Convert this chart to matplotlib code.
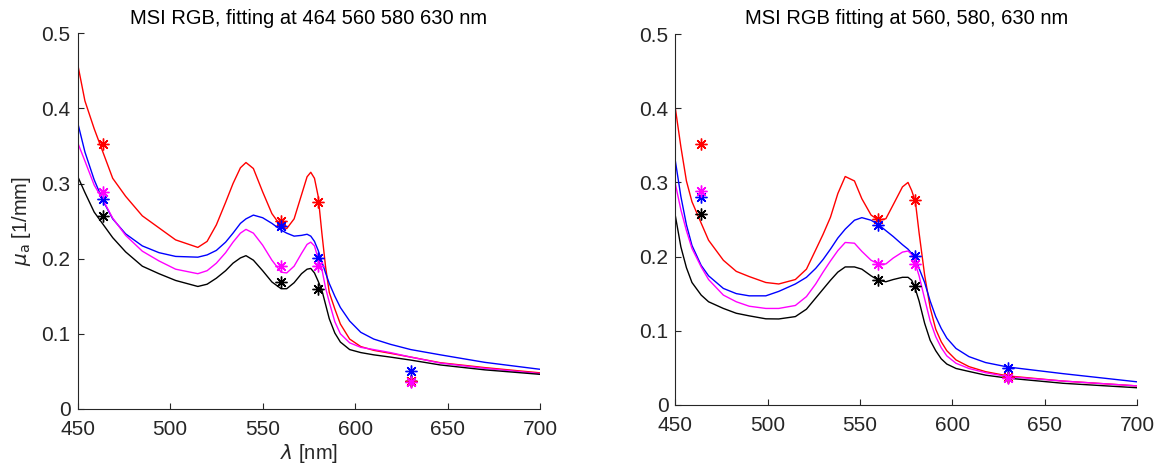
import matplotlib.pyplot as plt

plt.rcParams['font.family'] = ['Liberation Sans', 'DejaVu Sans']

# ---- left panel: fitting at 464 560 580 630 nm ----
left_wavelength = [450, 454, 459, 464, 469, 476, 485, 494, 503, 515, 520, 525, 530, 534,
                   538, 541, 545, 550, 555, 560, 563, 567, 571, 574, 576, 578, 580, 582,
                   584, 586, 589, 592, 597, 603, 610, 619, 630, 646, 670, 700]
left_red = [0.460, 0.410, 0.373, 0.340, 0.307, 0.283, 0.257, 0.241, 0.225, 0.215,
            0.223, 0.245, 0.275, 0.300, 0.321, 0.328, 0.320, 0.289, 0.260, 0.243,
            0.240, 0.253, 0.285, 0.309, 0.315, 0.307, 0.283, 0.234, 0.189, 0.155,
            0.133, 0.113, 0.093, 0.083, 0.078, 0.074, 0.069, 0.0615, 0.055, 0.048]
left_blue = [0.382, 0.342, 0.305, 0.276, 0.253, 0.233, 0.217, 0.208, 0.203, 0.202,
             0.205, 0.211, 0.222, 0.234, 0.247, 0.253, 0.258, 0.2545, 0.247, 0.238,
             0.234, 0.230, 0.231, 0.2325, 0.230, 0.223, 0.211, 0.196, 0.181, 0.167,
             0.150, 0.135, 0.117, 0.102, 0.093, 0.086, 0.079, 0.072, 0.062, 0.0527]
left_magenta = [0.355, 0.330, 0.298, 0.277, 0.254, 0.231, 0.210, 0.197, 0.186, 0.180,
                0.184, 0.194, 0.208, 0.222, 0.234, 0.239, 0.234, 0.218, 0.198, 0.182,
                0.181, 0.190, 0.207, 0.219, 0.222, 0.217, 0.200, 0.186, 0.161, 0.142,
                0.116, 0.100, 0.088, 0.082, 0.079, 0.075, 0.069, 0.061, 0.054, 0.047]
left_black = [0.310, 0.288, 0.262, 0.245, 0.228, 0.209, 0.190, 0.180, 0.171, 0.163,
              0.166, 0.174, 0.184, 0.194, 0.201, 0.204, 0.198, 0.184, 0.169, 0.160,
              0.160, 0.168, 0.180, 0.186, 0.187, 0.181, 0.170, 0.158, 0.139, 0.120,
              0.101, 0.089, 0.079, 0.075, 0.072, 0.069, 0.065, 0.0585, 0.052, 0.046]

# ---- right panel: fitting at 560, 580, 630 nm ----
right_wavelength = [450, 453, 456, 459, 464, 468, 476, 483, 490, 499, 506, 515, 521, 526,
                    530, 534, 538, 542, 547, 551, 556, 560, 564, 568, 573, 576, 578, 580,
                    582, 585, 588, 591, 594, 597, 602, 609, 618, 630, 660, 700]
right_red = [0.400, 0.348, 0.302, 0.274, 0.245, 0.222, 0.195, 0.180, 0.173, 0.165,
             0.163, 0.169, 0.183, 0.209, 0.230, 0.253, 0.285, 0.308, 0.302, 0.278,
             0.256, 0.249, 0.251, 0.270, 0.294, 0.300, 0.289, 0.274, 0.232, 0.175,
             0.131, 0.102, 0.085, 0.073, 0.0605, 0.0515, 0.0447, 0.039, 0.032, 0.0255]
right_blue = [0.329, 0.281, 0.243, 0.215, 0.188, 0.174, 0.157, 0.150, 0.147, 0.147,
              0.153, 0.163, 0.172, 0.184, 0.196, 0.210, 0.225, 0.237, 0.249, 0.2525,
              0.249, 0.243, 0.235, 0.227, 0.216, 0.210, 0.204, 0.198, 0.184, 0.165,
              0.140, 0.119, 0.103, 0.090, 0.076, 0.065, 0.057, 0.051, 0.042, 0.031]
right_magenta = [0.298, 0.263, 0.235, 0.211, 0.186, 0.169, 0.148, 0.139, 0.133, 0.130,
                 0.130, 0.134, 0.146, 0.163, 0.179, 0.194, 0.208, 0.219, 0.218, 0.207,
                 0.195, 0.190, 0.190, 0.198, 0.206, 0.2075, 0.203, 0.190, 0.174, 0.143,
                 0.113, 0.092, 0.077, 0.066, 0.056, 0.049, 0.0433, 0.038, 0.032, 0.0255]
right_black = [0.255, 0.213, 0.185, 0.165, 0.148, 0.139, 0.130, 0.1235, 0.120, 0.116,
               0.1158, 0.119, 0.129, 0.144, 0.156, 0.168, 0.179, 0.186, 0.186, 0.183,
               0.174, 0.168, 0.166, 0.169, 0.172, 0.172, 0.168, 0.156, 0.140, 0.110,
               0.087, 0.073, 0.062, 0.055, 0.049, 0.045, 0.040, 0.036, 0.029, 0.023]

# ---- measured MSI points (same in both panels) ----
msi_wavelength = [464, 560, 580, 630]
msi_red = [0.352, 0.250, 0.276, 0.037]
msi_blue = [0.280, 0.243, 0.201, 0.050]
msi_magenta = [0.289, 0.190, 0.190, 0.036]
msi_black = [0.257, 0.169, 0.160, 0.037]

colors = ["red", "blue", "magenta", "black"]
titles = ["MSI RGB, fitting at 464 560 580 630 nm",
          "MSI RGB fitting at 560, 580, 630 nm"]
wavelengths = [left_wavelength, right_wavelength]
curves = [[left_red, left_blue, left_magenta, left_black],
          [right_red, right_blue, right_magenta, right_black]]
# marker draw order: black first so magenta ends on top at 630 nm
marker_order = [("black", msi_black), ("red", msi_red),
                ("blue", msi_blue), ("magenta", msi_magenta)]

fig = plt.figure(figsize=(11.57, 4.69), dpi=100)
ax_left = fig.add_axes([0.0670, 0.1281, 0.4000, 0.8009])
ax_right = fig.add_axes([0.5837, 0.1369, 0.3990, 0.7902])

for ax, title, lam, panel in zip([ax_left, ax_right], titles, wavelengths, curves):
    for color, mu in zip(colors, panel):
        ax.plot(lam, mu, color=color, linewidth=1.0)
    for color, mu in marker_order:
        ax.plot(msi_wavelength, mu, linestyle="none", marker=(8, 2, 0),
                markersize=8.5, markeredgewidth=1.0, color=color)

    ax.set_xlim(450, 700)
    ax.set_ylim(0, 0.5)
    ax.set_xticks([450, 500, 550, 600, 650, 700])
    ax.set_yticks([0, 0.1, 0.2, 0.3, 0.4, 0.5])
    ax.set_yticklabels(["0", "0.1", "0.2", "0.3", "0.4", "0.5"])
    ax.set_title(title, fontsize=14.5, color="black", pad=7)

    for side in ["top", "right"]:
        ax.spines[side].set_visible(False)
    for side in ["left", "bottom"]:
        ax.spines[side].set_color("#262626")
        ax.spines[side].set_linewidth(0.8)
    ax.tick_params(direction="in", length=4, width=0.8, colors="#262626",
                   labelsize=15)
    ax.tick_params(axis="x", pad=8)
    ax.tick_params(axis="y", pad=5)

ax_left.set_xlabel(r"$\lambda$ [nm]", fontsize=14.5, color="#262626", labelpad=2)
ax_left.set_ylabel(r"$\mu_\mathrm{a}$ [1/mm]", fontsize=14.5, color="#262626", labelpad=6)

fig.savefig("out.png", dpi=100)
